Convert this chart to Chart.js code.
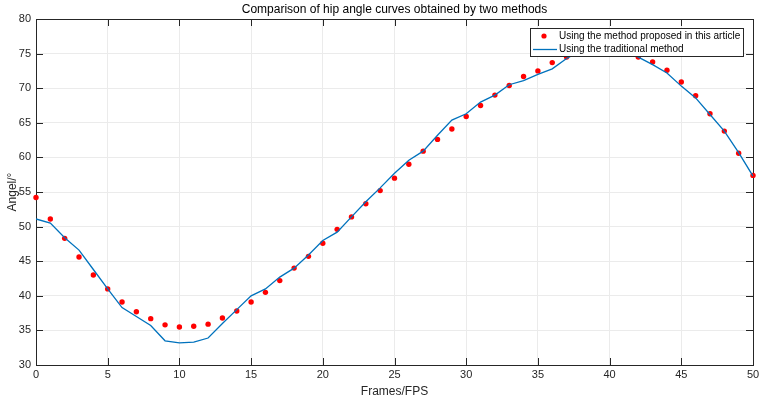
<!DOCTYPE html>
<html>
<head>
<meta charset="utf-8">
<script src="https://cdn.jsdelivr.net/npm/chart.js@4"></script>
<style>
  body { margin: 0; background: #fff; }
  canvas { display: block; }
</style>
</head>
<body>
<canvas id="hipchart" width="759" height="401"></canvas>
<script>
// frame numbers
var frames = [0,1,2,3,4,5,6,7,8,9,10,11,12,13,14,15,16,17,18,19,20,21,22,23,24,25,
              26,27,28,29,30,31,32,33,34,35,36,37,38,39,40,41,42,43,44,45,46,47,48,49,50];

// hip angle, method proposed in this article (red points)
var proposed = [54.2,51.1,48.3,45.6,43.0,41.0,39.1,37.7,36.7,35.8,35.5,35.6,35.9,36.8,37.8,39.1,
                40.5,42.2,44.0,45.7,47.6,49.6,51.4,53.3,55.2,57.0,59.0,60.9,62.6,64.1,65.9,
                67.5,69.0,70.4,71.7,72.5,73.7,74.5,75.4,75.9,76.0,75.5,74.5,73.8,72.6,70.9,
                68.9,66.3,63.8,60.6,57.4];

// hip angle, traditional method (blue line)
var traditional = [51.1,50.5,48.4,46.6,43.8,41.0,38.3,37.0,35.7,33.5,33.2,33.3,33.9,36.0,38.0,40.0,
                   41.0,42.7,44.0,45.9,48.0,49.2,51.4,53.6,55.6,57.7,59.6,60.9,63.2,65.4,66.3,
                   68.0,69.0,70.5,71.1,72.0,72.8,74.3,75.4,76.0,76.1,75.6,74.5,73.4,72.2,70.3,
                   68.6,66.2,63.8,60.7,57.3];

var xTicks = [0,5,10,15,20,25,30,35,40,45,50];
var yTicks = [30,35,40,45,50,55,60,65,70,75,80];

var titleText = 'Comparison of hip angle curves obtained by two methods';
var legendLabels = ['Using the method proposed in this article', 'Using the traditional method'];

var redCol = '#ff0000';
var blueCol = '#0072bd';
var fontName = '"Liberation Sans", Arial, sans-serif';

function toPoints(vals) {
    return frames.map(function (f, i) { return { x: f, y: vals[i] }; });
}

// box round the axes, inward ticks, title and legend (matlab look)
var matlabAxes = {
    id: 'matlabAxes',
    beforeDatasetsDraw: function (chart) {
        var ctx = chart.ctx, a = chart.chartArea;
        var xs = chart.scales.x, ys = chart.scales.y;
        ctx.save();
        ctx.strokeStyle = '#262626';
        ctx.lineWidth = 1;
        ctx.beginPath();
        xTicks.forEach(function (t) {
            var px = Math.round(xs.getPixelForValue(t)) + 0.5;
            ctx.moveTo(px, a.bottom); ctx.lineTo(px, a.bottom - 7);
            ctx.moveTo(px, a.top); ctx.lineTo(px, a.top + 7);
        });
        yTicks.forEach(function (t) {
            var py = Math.round(ys.getPixelForValue(t)) + 0.5;
            ctx.moveTo(a.left, py); ctx.lineTo(a.left + 7, py);
            ctx.moveTo(a.right, py); ctx.lineTo(a.right - 7, py);
        });
        ctx.stroke();
        ctx.strokeRect(Math.round(a.left) + 0.5, Math.round(a.top) + 0.5,
                       Math.round(a.right - a.left), Math.round(a.bottom - a.top));
        ctx.restore();
    },
    afterDraw: function (chart) {
        var ctx = chart.ctx, a = chart.chartArea;
        ctx.save();
        // title
        ctx.fillStyle = '#000';
        ctx.font = '12px ' + fontName;
        ctx.textAlign = 'center';
        ctx.textBaseline = 'middle';
        ctx.fillText(titleText, (a.left + a.right) / 2, 10);

        // legend
        var lx = 530, ly = 28, lw = 213, lh = 28;
        ctx.fillStyle = '#fff';
        ctx.fillRect(lx, ly, lw, lh);
        ctx.strokeStyle = '#262626';
        ctx.lineWidth = 1;
        ctx.strokeRect(lx + 0.5, ly + 0.5, lw, lh);

        ctx.fillStyle = redCol;
        ctx.beginPath();
        ctx.arc(544, 36, 2.6, 0, Math.PI * 2);
        ctx.fill();

        ctx.strokeStyle = blueCol;
        ctx.lineWidth = 1.3;
        ctx.beginPath();
        ctx.moveTo(533, 49.5); ctx.lineTo(557, 49.5);
        ctx.stroke();

        ctx.fillStyle = '#000';
        ctx.font = '10px ' + fontName;
        ctx.textAlign = 'left';
        ctx.fillText(legendLabels[0], 559, 36);
        ctx.fillText(legendLabels[1], 559, 49.5);
        ctx.restore();
    }
};

var ctx = document.getElementById('hipchart').getContext('2d');
var hipchart = new Chart(ctx, {
    type: 'line',
    data: {
        datasets: [{
            label: legendLabels[1],
            data: toPoints(traditional),
            borderColor: blueCol,
            borderWidth: 1.3,
            pointRadius: 0,
            tension: 0,
            fill: false,
            order: 0
        }, {
            label: legendLabels[0],
            data: toPoints(proposed),
            showLine: false,
            pointRadius: 2.7,
            pointBorderWidth: 0,
            pointBackgroundColor: redCol,
            pointBorderColor: redCol,
            clip: 5,
            order: 1
        }]
    },
    options: {
        responsive: false,
        animation: false,
        events: [],
        layout: { padding: { top: 19, right: 6, left: 0, bottom: 0 } },
        plugins: {
            legend: { display: false },
            tooltip: { enabled: false },
            title: { display: false }
        },
        scales: {
            x: {
                type: 'linear',
                min: 0,
                max: 50,
                afterFit: function (scale) {
                    scale.height = 36;
                    scale.paddingLeft = 0;
                    scale.paddingRight = 0;
                },
                afterBuildTicks: function (scale) {
                    scale.ticks = xTicks.map(function (v) { return { value: v }; });
                },
                ticks: {
                    color: '#262626',
                    padding: 3,
                    maxRotation: 0,
                    font: { family: fontName, size: 11 }
                },
                grid: { color: '#ebebeb', drawTicks: false },
                border: { display: false },
                title: {
                    display: true,
                    text: 'Frames/FPS',
                    color: '#262626',
                    padding: { top: 0, bottom: 2 },
                    font: { family: fontName, size: 12 }
                }
            },
            y: {
                type: 'linear',
                min: 30,
                max: 80,
                afterFit: function (scale) {
                    scale.width = 36;
                    scale.paddingTop = 0;
                    scale.paddingBottom = 0;
                },
                afterBuildTicks: function (scale) {
                    scale.ticks = yTicks.map(function (v) { return { value: v }; });
                },
                ticks: {
                    color: '#262626',
                    padding: 5,
                    font: { family: fontName, size: 11 }
                },
                grid: { color: '#ebebeb', drawTicks: false },
                border: { display: false },
                title: {
                    display: true,
                    text: 'Angel/°',
                    color: '#262626',
                    padding: { top: 5, bottom: 0 },
                    font: { family: fontName, size: 12 }
                }
            }
        }
    },
    plugins: [matlabAxes]
});
</script>
</body>
</html>
